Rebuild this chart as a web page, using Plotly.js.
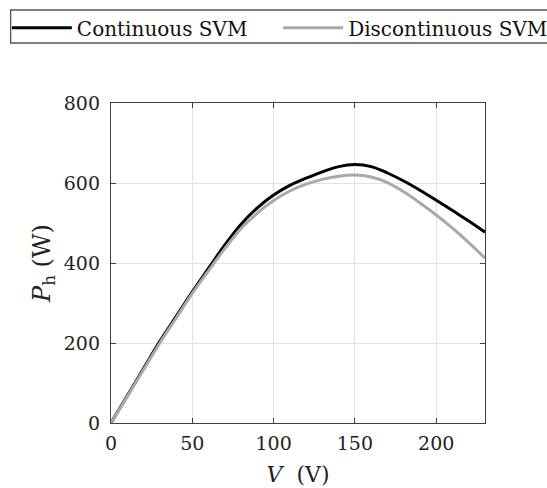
<!DOCTYPE html>
<html>
<head>
<meta charset="utf-8">
<script src="https://cdn.plot.ly/plotly-3.0.1.min.js"></script>
<style>html,body{margin:0;padding:0;background:#fff;}#chart{width:547px;height:488px;}</style>
</head>
<body>
<div id="chart"></div>
<script>
const voltage = [0,10,20,30,40,50,60,70,80,90,100,110,120,130,140,150,160,170,180,190,200,210,220,230];
const continuousSVM = [0,68,136,204,266,328,387,445,497,538,570,594,612,628,641,646,641,625,605,582,557,531,505,477];
const discontinuousSVM = [0,66,133,200,262,324,381,436,486,525,556,580,597,609,617,620,615,601,578,550,520,487,451,412];
const xTicks = [0,50,100,150,200];
const yTicks = [0,200,400,600,800];
const seriesNames = ['Continuous SVM','Discontinuous SVM'];

const serif = 'DejaVu Serif';
const traces = [
  {x: voltage, y: continuousSVM, name: seriesNames[0], mode: 'lines', legend: 'legend',
   line: {color: '#000000', width: 3, shape: 'spline', smoothing: 1.1}},
  {x: voltage, y: discontinuousSVM, name: seriesNames[1], mode: 'lines', legend: 'legend2',
   line: {color: '#a9a9a9', width: 3, shape: 'spline', smoothing: 1.1}}
];
const axisCommon = {
  showline: true, linecolor: '#404040', linewidth: 1.2, mirror: 'ticks',
  ticks: 'inside', ticklen: 5, tickcolor: '#404040',
  showgrid: true, gridcolor: '#e3e3e3', gridwidth: 1, zeroline: false,
  tickfont: {family: serif, size: 19, color: '#222'}
};
const legendCommon = {
  orientation: 'h', xref: 'container', yref: 'container',
  y: 0.983, xanchor: 'left', yanchor: 'top',
  bgcolor: 'rgba(0,0,0,0)', borderwidth: 0,
  font: {family: serif, size: 20, color: '#111'},
  itemwidth: 60
};
const layout = {
  width: 547, height: 488,
  margin: {l: 110.5, r: 62, t: 103, b: 65},
  paper_bgcolor: '#fff', plot_bgcolor: '#fff',
  font: {family: serif, color: '#222'},
  showlegend: true,
  legend: Object.assign({}, legendCommon, {x: 0.0125}),
  legend2: Object.assign({}, legendCommon, {x: 0.5085}),
  shapes: [{
    type: 'rect', xref: 'paper', yref: 'paper',
    x0: -0.2684, x1: 1.2003, y0: 1.1875, y1: 1.2906,
    line: {color: '#555', width: 1.3}, fillcolor: '#fff', layer: 'below'
  }],
  xaxis: Object.assign({}, axisCommon, {
    range: [0, 230], tickvals: xTicks, ticktext: xTicks.map(String),
    ticklabelstandoff: 3,
    title: {text: '<i>V</i>&nbsp;&nbsp;(V)', font: {family: serif, size: 22, color: '#222'}, standoff: 13}
  }),
  yaxis: Object.assign({}, axisCommon, {
    range: [0, 800], tickvals: yTicks, ticktext: yTicks.map(String),
    ticklabelstandoff: 6,
    title: {text: '<i>P</i><sub>h</sub>&nbsp;(W)', font: {family: serif, size: 24, color: '#222'}, standoff: 6}
  })
};
Plotly.newPlot('chart', traces, layout, {displayModeBar: false, staticPlot: true});
</script>
</body>
</html>
